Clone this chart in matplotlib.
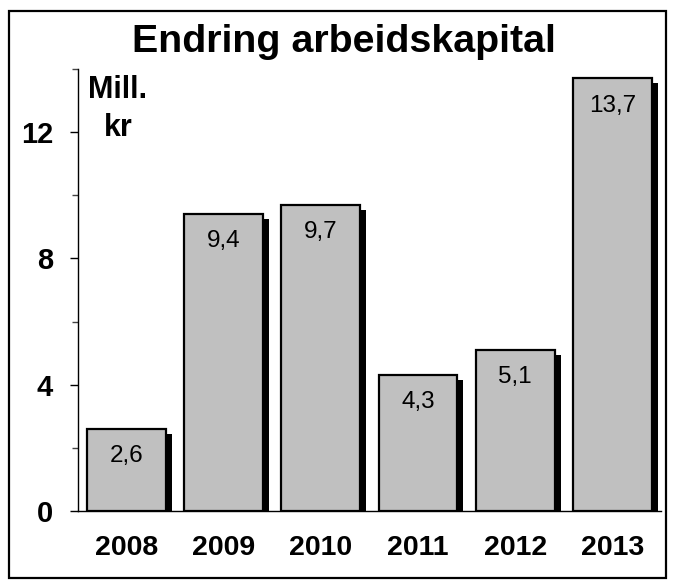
import matplotlib
matplotlib.use("Agg")
import matplotlib.pyplot as plt
from matplotlib.patches import Rectangle
import numpy as np

plt.rcParams['font.family'] = ['Liberation Sans', 'DejaVu Sans']

years = ["2008", "2009", "2010", "2011", "2012", "2013"]
values = [2.6, 9.4, 9.7, 4.3, 5.1, 13.7]
labels = ["2,6", "9,4", "9,7", "4,3", "5,1", "13,7"]
yticks = [0, 4, 8, 12]
ytick_labels = ["0", "4", "8", "12"]
minor_yticks = [2, 6, 10, 14]
title = "Endring arbeidskapital"
unit_line1 = "Mill."
unit_line2 = "kr"

W, H = 673, 584
fig = plt.figure(figsize=(W / 100, H / 100), dpi=100)
ax = fig.add_axes([77.7 / W, 1 - 511 / H, (661 - 77.7) / W, (511 - 69) / H])

x = np.arange(len(years))
bw = 0.81
px_x = 6 / 97.2      # shadow offset (data units)
px_y = 5 / 31.6
vals = np.array(values)
ax.bar(x + px_x, vals - px_y, width=bw, color='black', edgecolor='none', zorder=2)
ax.bar(x, vals, width=bw, color='#C0C0C0', edgecolor='black', linewidth=1.6, zorder=3)

for xi, v, lab in zip(x, values, labels):
    ax.annotate(lab, (xi, v), xytext=(0, -19.5), textcoords='offset points',
                ha='center', va='center', fontsize=17.5, zorder=4)

ax.set_xlim(-0.5, 5.5)
ax.set_ylim(0, 14)
ax.set_yticks(yticks)
ax.set_yticklabels(ytick_labels, fontsize=21, fontweight='bold')
ax.set_yticks(minor_yticks, minor=True)
ax.tick_params(axis='y', which='major', length=5.8, width=1, direction='out', pad=12)
ax.tick_params(axis='y', which='minor', length=4.3, width=1, direction='out', color='#444444')
ax.set_xticks(x)
ax.set_xticklabels(years, fontsize=20.5, fontweight='bold')
ax.tick_params(axis='x', length=0, pad=17)

for s in ['top', 'right']:
    ax.spines[s].set_visible(False)
ax.spines['left'].set_linewidth(1)
ax.spines['bottom'].set_linewidth(1)
ax.spines['bottom'].set_zorder(1)

fig.text(118 / W, 1 - 98 / H, unit_line1, ha='center', va='baseline',
         fontsize=22, fontweight='bold')
fig.text(118.5 / W, 1 - 135.5 / H, unit_line2, ha='center', va='baseline',
         fontsize=22, fontweight='bold')

fig.text(343.5 / W, 1 - 52 / H, title, ha='center', va='baseline', fontsize=28.4, fontweight='bold')

fig.patches.append(Rectangle((9 / W, 1 - 578 / H), (666 - 9) / W, (578 - 11) / H,
                             transform=fig.transFigure, fill=False, edgecolor='black',
                             linewidth=1.6))

fig.savefig("out.png", dpi=100)
